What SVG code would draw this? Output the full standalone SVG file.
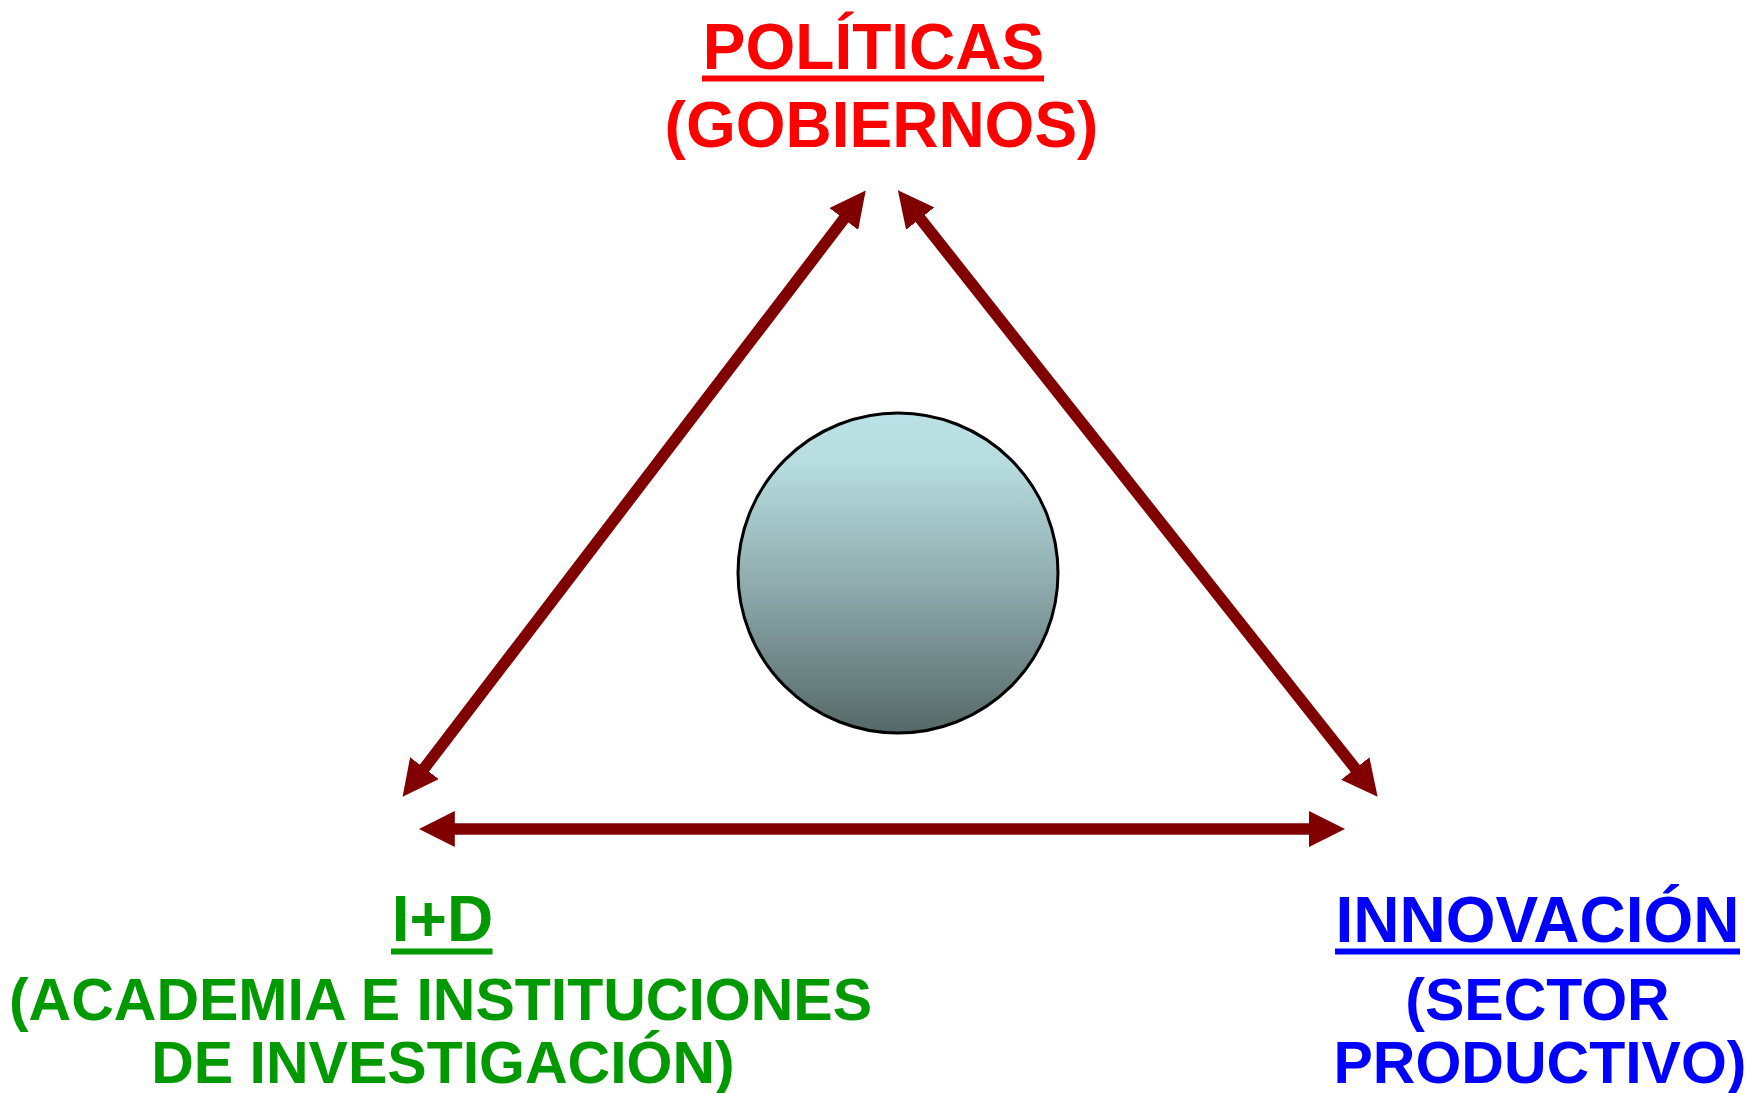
<svg xmlns="http://www.w3.org/2000/svg" width="1754" height="1093" viewBox="0 0 1754 1093">
<style>
.t{font-family:"Liberation Sans",Arial,sans-serif;font-weight:bold;text-anchor:middle}
.big{font-size:64px}
.sm{font-size:59px}
.red{fill:#FF0000}
.grn{fill:#009900}
.blu{fill:#0000FF}
.conn{stroke:#800000;stroke-width:11.5;fill:none;marker-start:url(#ah);marker-end:url(#ah)}
</style>
<defs>
<marker id="ah" markerUnits="userSpaceOnUse" markerWidth="36" markerHeight="36" viewBox="0 0 36 36" refX="20" refY="18" orient="auto-start-reverse">
<path d="M0,0 L36,18 L0,36 z" fill="#800000"/>
</marker>
<linearGradient id="g" x1="0" y1="0" x2="0" y2="1">
<stop offset="0" stop-color="#BAE1E5"/>
<stop offset="0.15" stop-color="#B7DDE0"/>
<stop offset="0.5" stop-color="#93B0B2"/>
<stop offset="1" stop-color="#566868"/>
</linearGradient>
</defs>
<rect width="1754" height="1093" fill="#FFFFFF"/>
<g id="connectors">
<line class="conn" x1="856" y1="203.1" x2="412.3" y2="784"/>
<line class="conn" x1="907.8" y1="202.9" x2="1367.7" y2="784.2"/>
<line class="conn" x1="434.8" y1="829" x2="1329" y2="829"/>
</g>
<g id="center">
<circle cx="898" cy="573" r="160" fill="url(#g)" stroke="#000000" stroke-width="3"/>
</g>
<g id="politicas">
<text class="t big red" x="873.5" y="68.5">POLÍTICAS</text>
<rect x="702" y="75.5" width="342" height="6" fill="#FF0000"/>
<text class="t big red" x="881.5" y="146.5">(GOBIERNOS)</text>
</g>
<g id="id">
<text class="t big grn" x="442.5" y="941">I+D</text>
<rect x="391" y="948.5" width="101.5" height="6" fill="#009900"/>
<text class="t sm grn" x="440.5" y="1020">(ACADEMIA E INSTITUCIONES</text>
<text class="t sm grn" x="443" y="1083">DE INVESTIGACIÓN)</text>
</g>
<g id="innovacion">
<text class="t big blu" x="1537.5" y="941.5">INNOVACIÓN</text>
<rect x="1335" y="948.5" width="405" height="6" fill="#0000FF"/>
<text class="t sm blu" x="1537.5" y="1020">(SECTOR</text>
<text class="t sm blu" x="1540" y="1083">PRODUCTIVO)</text>
</g>
</svg>
